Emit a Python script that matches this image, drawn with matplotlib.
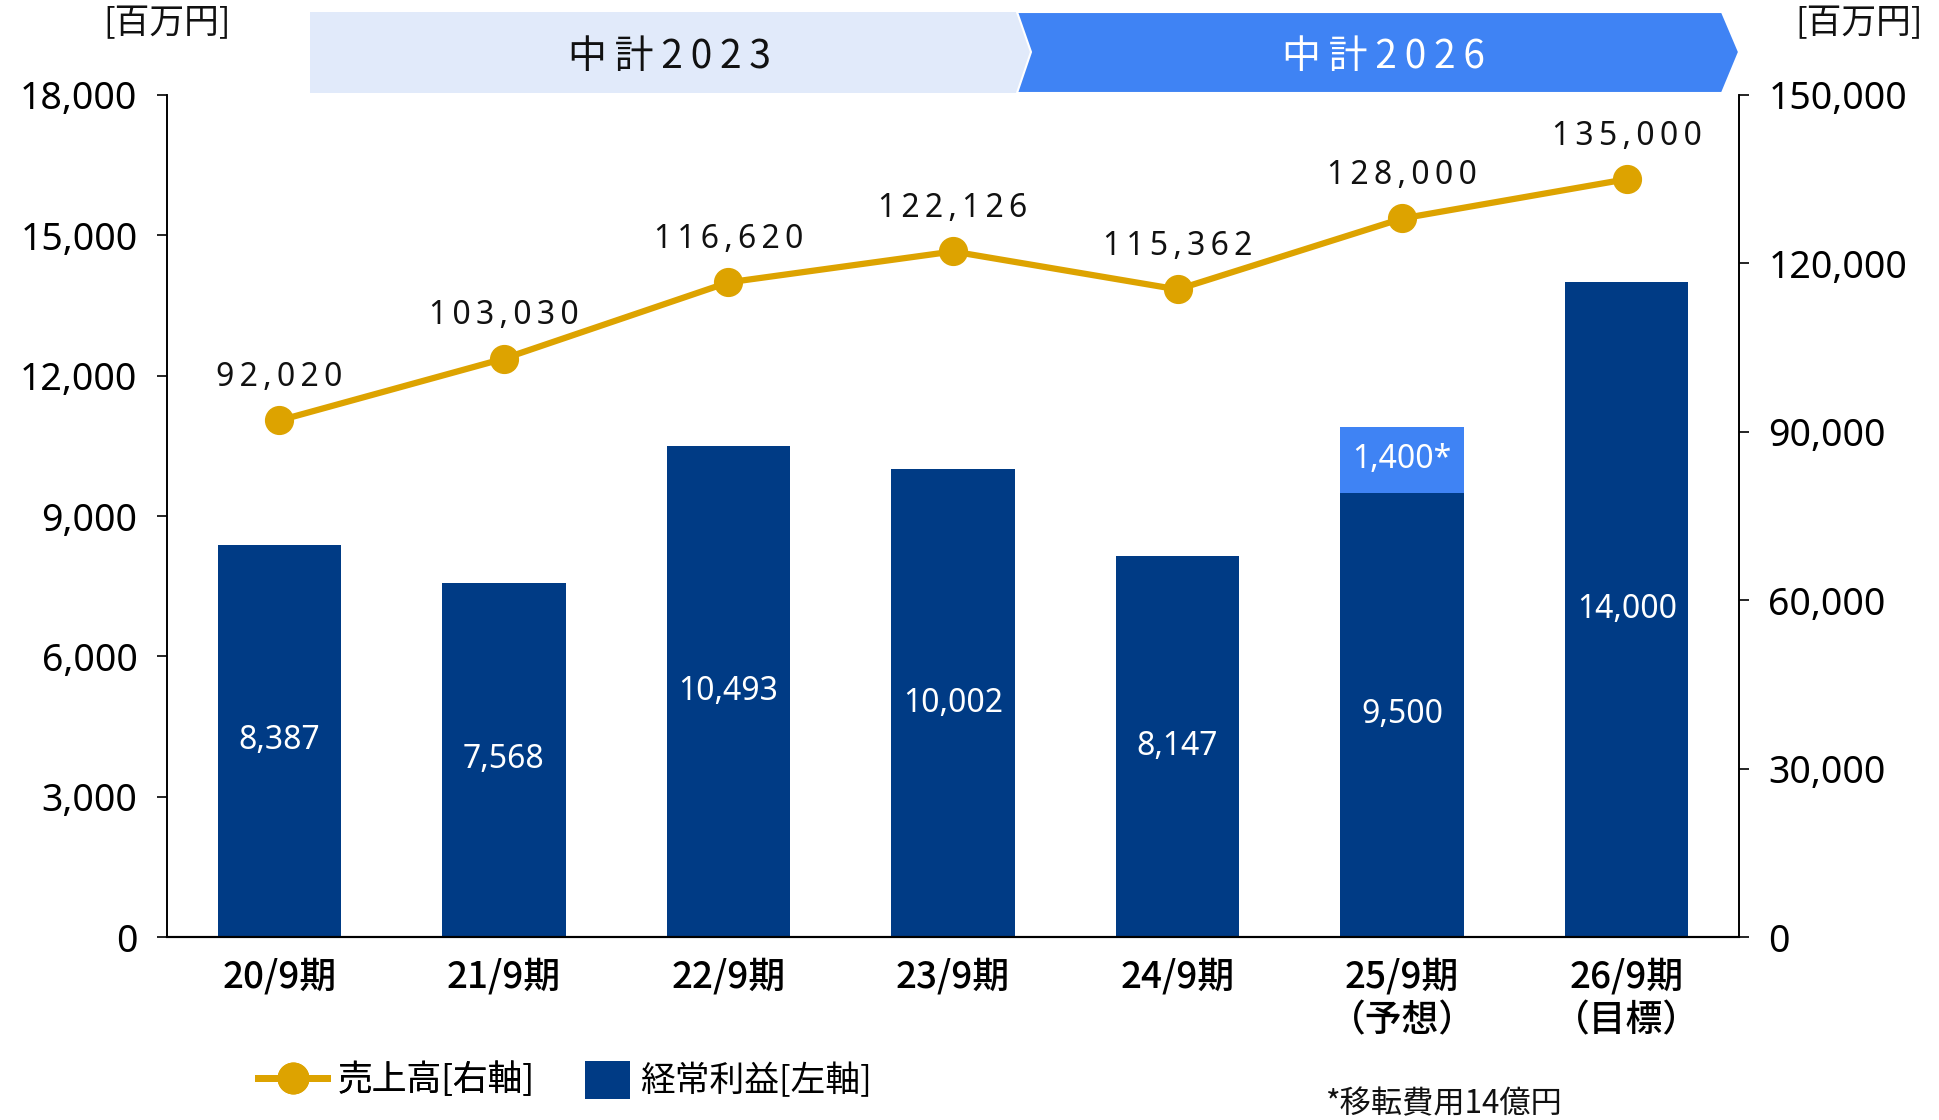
import matplotlib
matplotlib.use("Agg")
import matplotlib.pyplot as plt
from matplotlib.patches import Polygon
from matplotlib.lines import Line2D
from matplotlib.patches import Patch

plt.rcParams['font.family'] = ['Noto Sans CJK JP', 'DejaVu Sans']
NUMFONT = ['Noto Sans', 'DejaVu Sans']

periods = ["20/9期", "21/9期", "22/9期", "23/9期", "24/9期", "25/9期\n（予想）", "26/9期\n（目標）"]
sales = [92020, 103030, 116620, 122126, 115362, 128000, 135000]
profit = [8387, 7568, 10493, 10002, 8147, 9500, 14000]
relocation = [0, 0, 0, 0, 0, 1400, 0]
left_ticks = [0, 3000, 6000, 9000, 12000, 15000, 18000]
right_ticks = [0, 30000, 60000, 90000, 120000, 150000]

NAVY = "#003B85"
LIGHT = "#3F83F4"
GOLD = "#DDA300"
BAN_LIGHT = "#E1EAFA"
TXT = "#111111"

W, H = 1939, 1120
fig = plt.figure(figsize=(W / 100, H / 100), dpi=100)

def fx(x):
    return x / W

def fy(y):
    return 1 - y / H

ax = fig.add_axes([fx(167), fy(937), fx(1739) - fx(167), fy(95) - fy(937)])
ax2 = ax.twinx()

x = list(range(len(periods)))
ax.bar(x, profit, width=0.55, color=NAVY, zorder=2)
ax.bar(x, relocation, bottom=profit, width=0.55, color=LIGHT, zorder=2)

for i, v in enumerate(profit):
    ax.text(i, v / 2, f"{v:,}", ha="center", va="center", color="white",
            fontsize=23, family=NUMFONT, zorder=3)
for i, v in enumerate(relocation):
    if v:
        ax.text(i, profit[i] + v / 2, f"{v:,}*", ha="center", va="center", color="white",
                fontsize=23, family=NUMFONT, zorder=3)

ax.set_xlim(-0.5, len(periods) - 0.5)
ax.set_ylim(0, 18000)
ax.set_yticks(left_ticks)
ax.set_yticklabels([f"{t:,}" for t in left_ticks], family=NUMFONT, fontsize=27)
ax.set_xticks(x)
ax.set_xticklabels(periods, fontsize=26.5, fontweight="medium", linespacing=1.2, va="top")
ax.tick_params(axis="x", length=0, pad=15)
ax.tick_params(axis="y", length=7.2, width=1.2, direction="out", pad=14)

ax2.plot(x, sales, color=GOLD, lw=4.5, marker="o", markersize=20, zorder=5)
ax2.set_ylim(0, 150000)
ax2.set_yticks(right_ticks)
ax2.set_yticklabels([f"{t:,}" for t in right_ticks], family=NUMFONT, fontsize=27)
ax2.tick_params(axis="y", length=7.2, width=1.2, direction="out", pad=14)

def spaced(s):
    return "\u2009".join(s)

for i, v in enumerate(sales):
    ax2.annotate(spaced(f"{v:,}"), (i, v), xytext=(0, 19), textcoords="offset points",
                 ha="center", va="bottom", fontsize=23, family=NUMFONT, color=TXT)

for a in (ax, ax2):
    a.spines["top"].set_visible(False)
    a.spines["left"].set_linewidth(1.2)
    a.spines["right"].set_linewidth(1.2)
    a.spines["bottom"].set_linewidth(1.5)
ax.set_zorder(1)
ax2.set_zorder(2)
ax2.patch.set_visible(False)

# banners
pts_light = [(310, 12), (1030, 12), (1030, 93), (310, 93)]
fig.patches.append(Polygon([(fx(a), fy(b)) for a, b in pts_light], closed=True,
                           transform=fig.transFigure, facecolor=BAN_LIGHT, edgecolor="none"))
pts_dark = [(1017, 12), (1722, 12), (1739, 52), (1722, 93), (1017, 93), (1031, 52)]
fig.patches.append(Polygon([(fx(a), fy(b)) for a, b in pts_dark], closed=True,
                           transform=fig.transFigure, facecolor=LIGHT, edgecolor="white", lw=1.5))
fig.text(fx(669), fy(57), spaced("中計2023"), ha="center", va="center", fontsize=28,
         color=TXT)
fig.text(fx(1383), fy(57), spaced("中計2026"), ha="center", va="center", fontsize=28,
         color="white")

fig.text(fx(167), fy(24), "[百万円]", ha="center", va="center", fontsize=25, color=TXT)
fig.text(fx(1859), fy(24), "[百万円]", ha="center", va="center", fontsize=25, color=TXT)

leg1 = fig.legend([Line2D([0], [0], color=GOLD, lw=5, marker="o", markersize=22)],
                  ["売上高[右軸]"], loc="center left", bbox_to_anchor=(fx(258), fy(1080)),
                  frameon=False, prop={"size": 25}, handlelength=2.0,
                  handletextpad=0.3, borderpad=0, borderaxespad=0)
fig.add_artist(leg1)
fig.legend([Patch(facecolor=NAVY)], ["経常利益[左軸]"], loc="center left",
           bbox_to_anchor=(fx(585), fy(1080)), frameon=False,
           prop={"size": 25}, handlelength=1.3, handleheight=1.3,
           handletextpad=0.3, borderpad=0, borderaxespad=0)

fig.text(fx(1326), fy(1104), "*移転費用14億円", ha="left", va="center", fontsize=22.5, color=TXT)

fig.savefig("out.png", dpi=100)
